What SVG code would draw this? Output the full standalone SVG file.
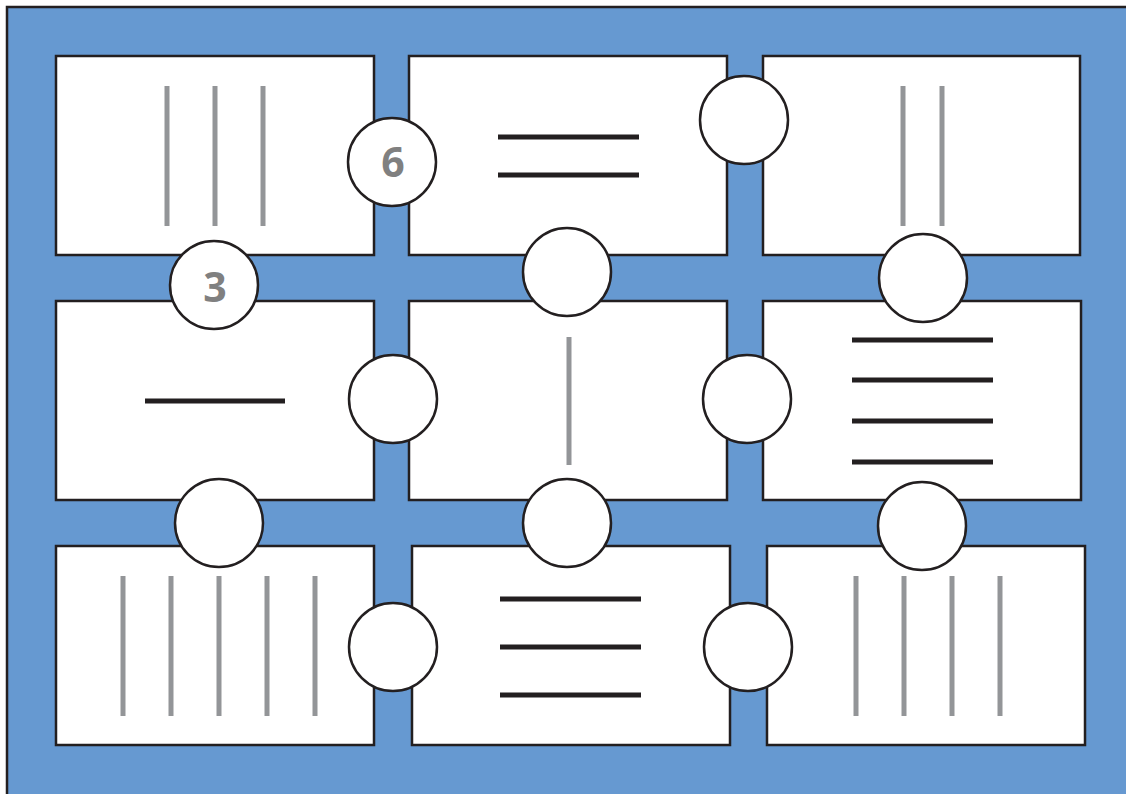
<svg xmlns="http://www.w3.org/2000/svg" width="1126" height="794" viewBox="0 0 1126 794">
<style>
.bg{fill:#6699d1;stroke:#231f20;stroke-width:2.5}
.box{fill:#fff;stroke:#231f20;stroke-width:2.5}
.g{stroke:#939598;stroke-width:5;fill:none}
.k{stroke:#231f20;stroke-width:5;fill:none}
.c{fill:#fff;stroke:#231f20;stroke-width:2.5}
.t{font-family:"Open Sans","Noto Sans",sans-serif;font-weight:bold;font-size:41px;fill:#808080;text-anchor:middle}
</style>
<rect class="bg" x="7" y="7" width="1140" height="810"/>
<g id="box1"><rect class="box" x="56" y="56" width="318" height="199"/><path class="g" d="M167 86V226M215 86V226M263 86V226"/></g>
<g id="box2"><rect class="box" x="409" y="56" width="318" height="199"/><path class="k" d="M498 137H639M498 175H639"/></g>
<g id="box3"><rect class="box" x="763" y="56" width="317" height="199"/><path class="g" d="M903 86V226M942 86V226"/></g>
<g id="box4"><rect class="box" x="56" y="301" width="318" height="199"/><path class="k" d="M145 401H285"/></g>
<g id="box5"><rect class="box" x="409" y="301" width="318" height="199"/><path class="g" d="M569 337V465"/></g>
<g id="box6"><rect class="box" x="763" y="301" width="318" height="199"/><path class="k" d="M852 340H993M852 380H993M852 421H993M852 462H993"/></g>
<g id="box7"><rect class="box" x="56" y="546" width="318" height="199"/><path class="g" d="M123 576V716M171 576V716M219 576V716M267 576V716M315 576V716"/></g>
<g id="box8"><rect class="box" x="412" y="546" width="318" height="199"/><path class="k" d="M500 599H641M500 647H641M500 695H641"/></g>
<g id="box9"><rect class="box" x="767" y="546" width="318" height="199"/><path class="g" d="M856 576V716M904 576V716M952 576V716M1000 576V716"/></g>
<g id="connectors">
<g id="c1"><circle class="c" cx="392" cy="162" r="44"/><text class="t" x="393" y="177">6</text></g>
<g id="c2"><circle class="c" cx="744" cy="120" r="44"/></g>
<g id="c3"><circle class="c" cx="214" cy="285" r="44"/><text class="t" x="215" y="302">3</text></g>
<g id="c4"><circle class="c" cx="567" cy="272" r="44"/></g>
<g id="c5"><circle class="c" cx="923" cy="278" r="44"/></g>
<g id="c6"><circle class="c" cx="393" cy="399" r="44"/></g>
<g id="c7"><circle class="c" cx="747" cy="399" r="44"/></g>
<g id="c8"><circle class="c" cx="219" cy="523" r="44"/></g>
<g id="c9"><circle class="c" cx="567" cy="523" r="44"/></g>
<g id="c10"><circle class="c" cx="922" cy="526" r="44"/></g>
<g id="c11"><circle class="c" cx="393" cy="647" r="44"/></g>
<g id="c12"><circle class="c" cx="748" cy="647" r="44"/></g>
</g>
</svg>
